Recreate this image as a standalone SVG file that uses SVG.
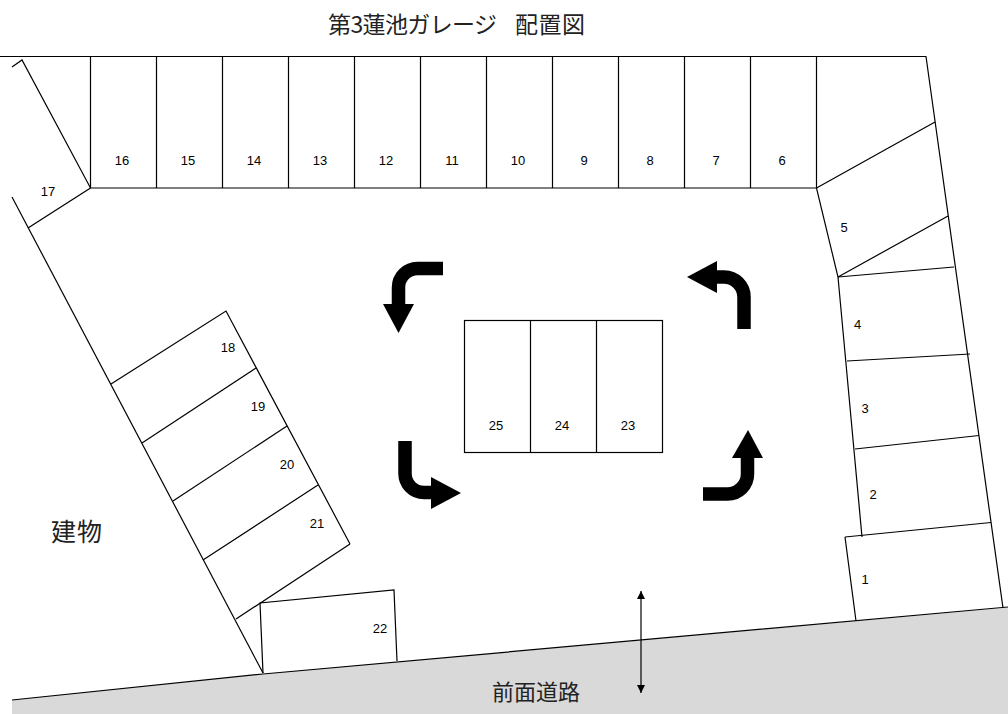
<svg xmlns="http://www.w3.org/2000/svg" width="1008" height="714" viewBox="0 0 1008 714">
<style>
.l{fill:none;stroke:#000;stroke-width:1.2}
.n{font:13px "Liberation Sans",sans-serif;fill:#000;text-anchor:middle}
.j{font-family:"Noto Sans CJK JP","Liberation Sans",sans-serif;fill:#222}
.a{fill:none;stroke:#000;stroke-width:13.5}
</style>
<defs>
<marker id="h" viewBox="0 0 10 10" refX="10" refY="5" markerWidth="8" markerHeight="8" orient="auto-start-reverse" markerUnits="userSpaceOnUse"><path d="M0 0L10 5L0 10Z"/></marker>
</defs>
<rect width="1008" height="714" fill="#fff"/>
<polygon id="road" points="12,700 263,674 1003,608 1008,607 1008,714 12,714" fill="#d9d9d9"/>
<text class="j" x="328" y="33" font-size="23" textLength="169">第3蓮池ガレージ</text>
<text class="j" x="515" y="33" font-size="23" textLength="70">配置図</text>
<text class="j" x="51" y="541" font-size="25" textLength="51">建物</text>
<text class="j" x="492" y="700" font-size="22" textLength="88">前面道路</text>
<g id="connectors">
<path class="l" d="M0 56.5H926L1003 608"/>
<path class="l" d="M12 67L22 60L90.5 188H816.5L838 277L862 537"/>
<path class="l" d="M12 197L263 673"/>
<path class="l" d="M12 700L263 674L1008 607"/>
<path class="l" d="M90.5 188L28 228"/>
<path class="l" d="M641 591V693" marker-start="url(#h)" marker-end="url(#h)"/>
</g>
<g id="top-row"><path class="l" d="M90.5 56V188M156.5 56V188M222.5 56V188M288.5 56V188M354.5 56V188M420.5 56V188M486.5 56V188M552.5 56V188M618.5 56V188M684.5 56V188M750.5 56V188M816.5 56V188"/></g>
<g id="n1"><path class="l" d="M845 537L991 522.500M845 537L856 621"/><text class="n" x="865" y="584">1</text></g>
<g id="n2"><path class="l" d="M855 449L979 435.500"/><text class="n" x="873" y="499">2</text></g>
<g id="n3"><path class="l" d="M847 361L970 354"/><text class="n" x="865" y="413">3</text></g>
<g id="n4"><path class="l" d="M838 277L954 267"/><text class="n" x="857.500" y="329">4</text></g>
<g id="n5"><path class="l" d="M816.500 188L935 122M838 277L948 216"/><text class="n" x="844" y="232">5</text></g>
<g id="n6"><text class="n" x="782" y="165">6</text></g>
<g id="n7"><text class="n" x="716" y="165">7</text></g>
<g id="n8"><text class="n" x="650" y="165">8</text></g>
<g id="n9"><text class="n" x="584" y="165">9</text></g>
<g id="n10"><text class="n" x="518" y="165">10</text></g>
<g id="n11"><text class="n" x="452" y="165">11</text></g>
<g id="n12"><text class="n" x="386" y="165">12</text></g>
<g id="n13"><text class="n" x="320" y="165">13</text></g>
<g id="n14"><text class="n" x="254" y="165">14</text></g>
<g id="n15"><text class="n" x="188" y="165">15</text></g>
<g id="n16"><text class="n" x="122" y="165">16</text></g>
<g id="n17"><text class="n" x="48" y="196">17</text></g>
<g id="n18"><path class="l" d="M111 384L226 311L350 544"/><text class="n" x="228" y="352">18</text></g>
<g id="n19"><path class="l" d="M142 443L256 368"/><text class="n" x="258" y="411">19</text></g>
<g id="n20"><path class="l" d="M173 501L287 426"/><text class="n" x="287" y="469">20</text></g>
<g id="n21"><path class="l" d="M203 560L318 485M350 544L236 619"/><text class="n" x="317" y="528">21</text></g>
<g id="n22"><path class="l" d="M263 673L260 603L394 590L397 661"/><text class="n" x="380" y="633">22</text></g>
<g id="center"><rect class="l" x="464.500" y="320.500" width="198" height="132"/><path class="l" d="M530.500 320V452M596.500 320V452"/></g>
<g id="n23"><text class="n" x="628" y="430">23</text></g>
<g id="n24"><text class="n" x="562" y="430">24</text></g>
<g id="n25"><text class="n" x="496" y="430">25</text></g>
<g id="arrow1"><path class="a" d="M443 268.500H417.500A19 19 0 0 0 398.500 287.500V305"/><polygon points="383,304 414,304 398.500,333"/></g>
<g id="arrow2"><path class="a" d="M405 441V473.500A19 19 0 0 0 424 492.500H432"/><polygon points="431,477 431,509 461,493"/></g>
<g id="arrow3"><path class="a" d="M744 329V297A20 20 0 0 0 724 277H716"/><polygon points="717,261 717,293 687,277"/></g>
<g id="arrow4"><path class="a" d="M703 494H727.500A20 20 0 0 0 747.500 474V457"/><polygon points="732,458 763,458 748,430"/></g>
</svg>
